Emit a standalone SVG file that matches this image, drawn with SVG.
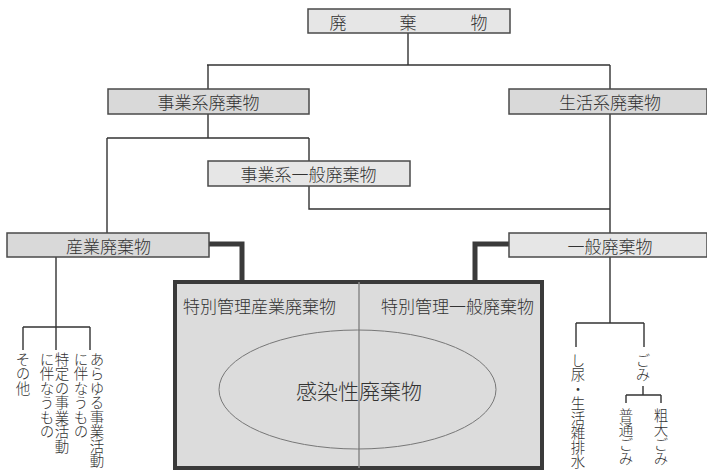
<svg xmlns="http://www.w3.org/2000/svg" width="707" height="471" viewBox="0 0 707 471">
<style>
  text { font-family: "Noto Sans CJK JP", "Noto Sans", sans-serif; fill: #333; font-weight: 300; }
  .box { stroke: #4a4a4a; stroke-width: 1.5; }
  .lt { fill: #e6e6e6; }
  .dk { fill: #d9d9d9; }
  .lbl { font-size: 17px; text-anchor: middle; dominant-baseline: central; }
  .vt { font-size: 14.5px; writing-mode: vertical-rl; }
  .ln { fill: none; stroke: #333; stroke-width: 1.4; }
  .thick { fill: none; stroke: #3a3a3a; stroke-width: 5; }
</style>
<rect width="707" height="471" fill="#fff"/>
<g id="connectors">
  <path class="ln" d="M408 33 V65 M207 65 H610 M208 65 V89 M610 65 V89"/>
  <path class="ln" d="M208 114 V138 M107 138 H309 M107 138 V233 M309 138 V161"/>
  <path class="ln" d="M309 186 V209 H610 M610 114 V233"/>
  <path class="ln" d="M56 257 V327 M23 327 H90 M23 327 V350 M56 327 V350 M90 327 V350"/>
  <path class="ln" d="M610 257 V323 M576 323 H644 M576 323 V347 M644 323 V347"/>
  <path class="ln" d="M643 386 V395 M626 395 H661 M626 395 V403 M661 395 V403"/>
  <path class="thick" d="M209 244 H242 V280"/>
  <path class="thick" d="M509 244 H475 V280"/>
</g>
<g id="haikibutsu">
  <rect class="box lt" x="308" y="9" width="202" height="24"/>
  <text class="lbl" x="338 408 479" y="21">廃棄物</text>
</g>
<g id="jigyokei">
  <rect class="box dk" x="108" y="89" width="201" height="25"/>
  <text class="lbl" x="208.5" y="101.5">事業系廃棄物</text>
</g>
<g id="seikatsukei">
  <rect class="box dk" x="509" y="89" width="198" height="25"/>
  <text class="lbl" x="610" y="101.5">生活系廃棄物</text>
</g>
<g id="jigyokei-ippan">
  <rect class="box lt" x="208" y="161" width="202" height="25"/>
  <text class="lbl" x="308.5" y="173.5">事業系一般廃棄物</text>
</g>
<g id="sangyo">
  <rect class="box dk" x="7" y="233" width="202" height="24"/>
  <text class="lbl" x="108.5" y="245">産業廃棄物</text>
</g>
<g id="ippan">
  <rect class="box lt" x="509" y="233" width="198" height="24"/>
  <text class="lbl" x="610" y="245">一般廃棄物</text>
</g>
<g id="tokubetsu">
  <rect x="175" y="282" width="367" height="186" fill="#dcdcdc" stroke="#3a3a3a" stroke-width="4"/>
  <line x1="359" y1="282" x2="359" y2="468" stroke="#8a8a8a" stroke-width="1.5"/>
  <text class="lbl" x="259.5" y="305">特別管理産業廃棄物</text>
  <text class="lbl" x="457.5" y="305">特別管理一般廃棄物</text>
</g>
<g id="kansensei">
  <ellipse cx="357.5" cy="389.5" rx="138.5" ry="59.5" fill="none" stroke="#777" stroke-width="1"/>
  <text class="lbl" x="359" y="390" style="font-size:21px">感染性廃棄物</text>
</g>
<g id="sangyo-items">
  <text class="vt" x="23" y="352">その他</text>
  <text class="vt" x="62" y="352">特定の事業活動</text>
  <text class="vt" x="47" y="352">に伴なうもの</text>
  <text class="vt" x="97" y="352">あらゆる事業活動</text>
  <text class="vt" x="81" y="352">に伴なうもの</text>
</g>
<g id="ippan-items">
  <text class="vt" x="578" y="353">し尿・生活雑排水</text>
  <text class="vt" x="643" y="353">ごみ</text>
  <text class="vt" x="626" y="408">普通ごみ</text>
  <text class="vt" x="661" y="408">粗大ごみ</text>
</g>
</svg>
